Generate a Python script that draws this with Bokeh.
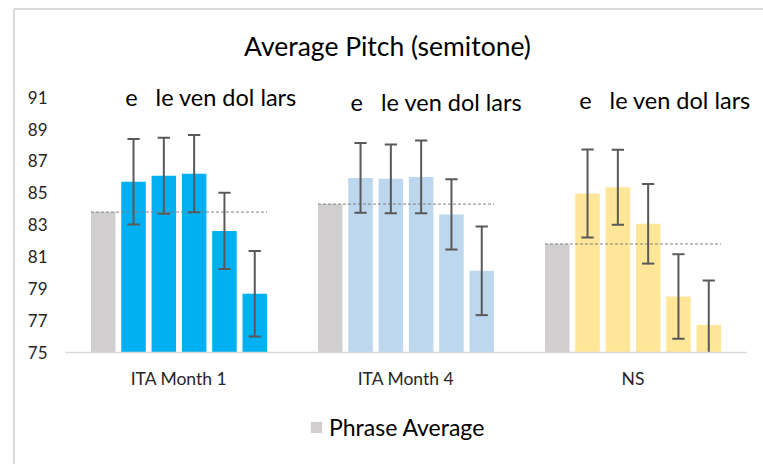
from bokeh.plotting import figure
from bokeh.models import Range1d, FixedTicker, Label, Legend, LegendItem, LinearAxis
from bokeh.embed import file_html
from bokeh.resources import INLINE

groups = ["ITA Month 1", "ITA Month 4", "NS"]
syllables = ["e", "le", "ven", "dol", "lars"]
phrase_avg = [83.8, 84.3, 81.8]
ita_m1 = [85.7, 86.07, 86.2, 82.62, 78.68]
ita_m1_err = [2.68, 2.38, 2.42, 2.39, 2.68]
ita_m4 = [85.94, 85.88, 86.0, 83.65, 80.12]
ita_m4_err = [2.19, 2.16, 2.28, 2.2, 2.78]
ns = [84.96, 85.36, 83.06, 78.51, 76.73]
ns_err = [2.76, 2.35, 2.49, 2.65, 2.78]
y_ticks = [75, 77, 79, 81, 83, 85, 87, 89, 91]

series = [ita_m1, ita_m4, ns]
errors = [ita_m1_err, ita_m4_err, ns_err]
colors = ["#00B0F0", "#BDD7EE", "#FFE699"]
gray = "#D0CECE"
FONT = "Lato"
TXT = "#262626"
YMIN, YMAX = y_ticks[0], y_ticks[-1]

# frame = whole figure; axes are pinned inside it
X0, X1 = -0.2863, 3.0749
Y0, Y1 = 67.982, 97.055
p = figure(width=763, height=464, output_backend="svg", toolbar_location=None,
           x_range=Range1d(X0, X1), y_range=Range1d(Y0, Y1),
           x_axis_location=None, y_axis_location=None,
           min_border=0)
p.outline_line_color = None
p.xgrid.grid_line_color = None
p.ygrid.grid_line_color = None
p.background_fill_color = "white"
p.border_fill_color = "white"

# chart-area border (left & top)
BX, BY = -0.2269, 96.52
p.segment(x0=[BX, BX], x1=[BX, X1], y0=[Y0, BY], y1=[BY, BY],
          line_color="#d9d9d9", line_width=2)

pitch = 0.1335
bw = 0.108
cap = 0.027

gray_r = None
for gi, g in enumerate(groups):
    c = gi + 0.5
    xs = [c + (i - 2.5) * pitch for i in range(6)]
    r = p.vbar(x=[xs[0]], top=[phrase_avg[gi]], bottom=YMIN, width=bw, color=gray, line_color=None)
    if gray_r is None:
        gray_r = r
    p.vbar(x=xs[1:], top=series[gi], bottom=YMIN, width=bw, color=colors[gi], line_color=None)
    # dashed phrase-average line
    p.segment(x0=[xs[0] - bw / 2], x1=[xs[-1] + bw / 2], y0=[phrase_avg[gi]], y1=[phrase_avg[gi]],
              line_color="#808080", line_width=1, line_dash="3 2")
    up = [v + e for v, e in zip(series[gi], errors[gi])]
    lo_raw = [v - e for v, e in zip(series[gi], errors[gi])]
    lo = [max(l, YMIN) for l in lo_raw]
    ex = xs[1:]
    p.segment(x0=ex, x1=ex, y0=lo, y1=up, line_color="#595959", line_width=2)
    p.segment(x0=[x - cap for x in ex], x1=[x + cap for x in ex], y0=up, y1=up,
              line_color="#595959", line_width=2)
    cx = [x for x, l in zip(ex, lo_raw) if l >= YMIN]
    cl = [l for l in lo_raw if l >= YMIN]
    p.segment(x0=[x - cap for x in cx], x1=[x + cap for x in cx], y0=cl, y1=cl,
              line_color="#595959", line_width=2)

# syllable labels above each group
syl_text = "e\u00a0\u00a0 " + " ".join(syllables[1:])
syl_pos = [(0.641, 90.98), (1.634, 90.68), (2.641, 90.79)]
for (sx, sy) in syl_pos:
    p.add_layout(Label(x=sx, y=sy, text=syl_text, text_font=FONT, text_font_size="23.5px",
                       text_color="#000000", text_align="center", text_baseline="middle"))

# title
p.add_layout(Label(x=1.4185, y=94.2, text="Average Pitch (semitone)", text_font=FONT,
                   text_font_size="26.5px", text_color="#000000", text_align="center",
                   text_baseline="middle"))

# axes pinned inside the frame
yaxis = LinearAxis(fixed_location=0, ticker=FixedTicker(ticks=y_ticks))
yaxis.axis_line_color = None
yaxis.major_tick_line_color = None
yaxis.minor_tick_line_color = None
yaxis.major_tick_out = 0
yaxis.major_tick_in = 0
yaxis.major_label_standoff = 18
yaxis.major_label_text_font = FONT
yaxis.major_label_text_font_size = "17px"
yaxis.major_label_text_color = TXT
p.add_layout(yaxis, "left")

xaxis = LinearAxis(fixed_location=YMIN, ticker=FixedTicker(ticks=[0.5, 1.5, 2.5]), bounds=(0, 3))
xaxis.major_label_overrides = {0.5: groups[0], 1.5: groups[1], 2.5: groups[2]}
xaxis.axis_line_color = "#d9d9d9"
xaxis.axis_line_width = 1.5
xaxis.major_tick_line_color = None
xaxis.minor_tick_line_color = None
xaxis.major_tick_out = 0
xaxis.major_tick_in = 0
xaxis.major_label_standoff = 16
xaxis.major_label_text_font = FONT
xaxis.major_label_text_font_size = "17.5px"
xaxis.major_label_text_color = TXT
p.add_layout(xaxis, "below")

legend = Legend(items=[LegendItem(label="Phrase Average", renderers=[gray_r])],
                location=(309, 23.5), orientation="horizontal", border_line_color=None,
                background_fill_alpha=0, padding=0, margin=0, glyph_width=14, glyph_height=14,
                label_standoff=6, label_text_font=FONT, label_text_font_size="23px",
                label_text_color="#000000")
p.add_layout(legend, "center")

open("out.html", "w").write(file_html(p, INLINE))
